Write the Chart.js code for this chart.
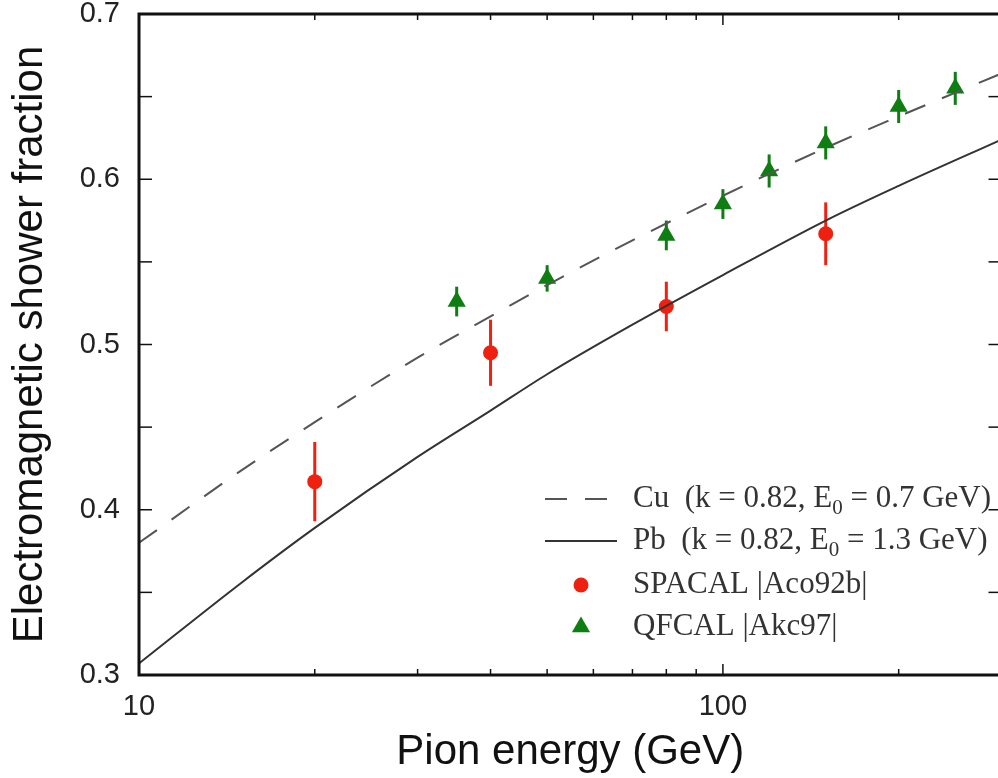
<!DOCTYPE html>
<html>
<head>
<meta charset="utf-8">
<style>
  html, body { margin: 0; padding: 0; overflow: hidden; background: #fff; }
  #wrap { width: 1012px; height: 778px; }
</style>
</head>
<body>
<div id="wrap"><canvas id="chart" width="1012" height="778"></canvas></div>
<script src="https://cdn.jsdelivr.net/npm/chart.js@4/dist/chart.umd.min.js"></script>
<script>
// Model curves
const curveE = [10, 15, 20, 30, 40, 50, 70, 100, 150, 200, 300];
const cuFraction = [0.380, 0.424, 0.453, 0.492, 0.517, 0.536, 0.563, 0.590, 0.619, 0.638, 0.664];
const pbFraction = [0.307, 0.356, 0.389, 0.432, 0.460, 0.482, 0.512, 0.542, 0.575, 0.596, 0.624];

// SPACAL [Aco92b]
const spacalE = [20, 40, 80, 150];
const spacalF = [0.417, 0.495, 0.523, 0.567];
const spacalErr = [0.024, 0.020, 0.015, 0.019];

// QFCAL [Ake97]
const qfcalE = [35, 50, 80, 100, 120, 150, 200, 250];
const qfcalF = [0.526, 0.540, 0.566, 0.585, 0.605, 0.622, 0.644, 0.655];
const qfcalErr = [0.009, 0.008, 0.009, 0.009, 0.010, 0.010, 0.010, 0.010];

// ticks
const xTickLabels = [10, 100];
const xMinorTicks = [20, 30, 40, 50, 60, 70, 80, 90, 200, 300];
const yTickLabels = [0.3, 0.4, 0.5, 0.6, 0.7];
const yMinorTicks = [0.35, 0.45, 0.55, 0.65];

const RED = "#ee2010";
const GREEN = "#0e7d12";

const toPoints = (xs, ys) => xs.map((x, i) => ({ x: x, y: ys[i] }));

// vertical error bars under the markers
const errorBars = {
  id: "errorBars",
  beforeDatasetsDraw(chart) {
    const ctx = chart.ctx;
    const x = chart.scales.x, y = chart.scales.y;
    const draw = (es, fs, errs, color) => {
      ctx.save();
      ctx.strokeStyle = color;
      ctx.lineWidth = 3;
      es.forEach((e, i) => {
        const px = x.getPixelForValue(e);
        ctx.beginPath();
        ctx.moveTo(px, y.getPixelForValue(fs[i] - errs[i]));
        ctx.lineTo(px, y.getPixelForValue(fs[i] + errs[i]));
        ctx.stroke();
      });
      ctx.restore();
    };
    draw(spacalE, spacalF, spacalErr, RED);
    draw(qfcalE, qfcalF, qfcalErr, GREEN);
  },
};

// box frame with inward ticks on all four sides
const frame = {
  id: "frame",
  afterDatasetsDraw(chart) {
    const ctx = chart.ctx;
    const a = chart.chartArea;
    const x = chart.scales.x, y = chart.scales.y;
    ctx.save();
    ctx.strokeStyle = "#111";
    ctx.lineWidth = 1.5;
    const tick = (x1, y1, x2, y2) => {
      ctx.beginPath();
      ctx.moveTo(x1, y1);
      ctx.lineTo(x2, y2);
      ctx.stroke();
    };
    xTickLabels.forEach((v) => {
      const px = x.getPixelForValue(v);
      tick(px, a.bottom, px, a.bottom - 11);
      tick(px, a.top, px, a.top + 11);
    });
    xMinorTicks.forEach((v) => {
      const px = x.getPixelForValue(v);
      tick(px, a.bottom, px, a.bottom - 6);
      tick(px, a.top, px, a.top + 6);
    });
    yTickLabels.concat(yMinorTicks).forEach((v) => {
      const py = y.getPixelForValue(v);
      tick(a.left, py, a.left + 13, py);
      tick(a.right, py, a.right - 13, py);
    });
    ctx.lineWidth = 3;
    ctx.strokeRect(a.left, a.top, a.right - a.left, a.bottom - a.top);
    ctx.restore();
  },
};

// legend inside the plot, with subscript 0
const insideLegend = {
  id: "insideLegend",
  afterDraw(chart) {
    const ctx = chart.ctx;
    const rows = [499, 541, 585, 627];
    const sampleL = 545, sampleR = 617, textX = 633;
    const font = "31px 'Liberation Serif', 'Times New Roman', serif";
    const subFont = "21px 'Liberation Serif', 'Times New Roman', serif";
    ctx.save();
    chart.data.datasets.forEach((ds, i) => {
      const yy = rows[i];
      if (ds.showLine === false) {
        const mx = (sampleL + sampleR) / 2;
        ctx.fillStyle = ds.pointBackgroundColor;
        ctx.beginPath();
        if (ds.pointStyle === "triangle") {
          const r = ds.pointRadius;
          ctx.moveTo(mx, yy - r);
          ctx.lineTo(mx + r * Math.sin(2.0944), yy - r * Math.cos(2.0944));
          ctx.lineTo(mx + r * Math.sin(4.1888), yy - r * Math.cos(4.1888));
        } else {
          ctx.arc(mx, yy, ds.pointRadius, 0, Math.PI * 2);
        }
        ctx.closePath();
        ctx.fill();
      } else {
        ctx.strokeStyle = ds.borderColor;
        ctx.lineWidth = ds.borderWidth;
        ctx.setLineDash(ds.borderDash || []);
        ctx.beginPath();
        ctx.moveTo(sampleL, yy);
        ctx.lineTo(sampleR, yy);
        ctx.stroke();
        ctx.setLineDash([]);
      }
      ctx.fillStyle = "#333";
      ctx.textBaseline = "middle";
      ctx.textAlign = "left";
      let tx = textX;
      ds.label.split("₀").forEach((part, k) => {
        if (k > 0) {
          ctx.font = subFont;
          ctx.fillText("0", tx, yy + 9);
          tx += ctx.measureText("0").width;
        }
        ctx.font = font;
        ctx.fillText(part, tx, yy);
        tx += ctx.measureText(part).width;
      });
    });
    ctx.restore();
  },
};

new Chart(document.getElementById("chart"), {
  type: "scatter",
  data: {
    datasets: [
      {
        label: "Cu  (k = 0.82, E₀ = 0.7 GeV)",
        data: toPoints(curveE, cuFraction),
        showLine: true,
        borderColor: "#555",
        borderWidth: 2,
        borderDash: [22, 18],
        pointRadius: 0,
        cubicInterpolationMode: "monotone",
      },
      {
        label: "Pb  (k = 0.82, E₀ = 1.3 GeV)",
        data: toPoints(curveE, pbFraction),
        showLine: true,
        borderColor: "#333",
        borderWidth: 2,
        pointRadius: 0,
        cubicInterpolationMode: "monotone",
      },
      {
        label: "SPACAL |Aco92b|",
        data: toPoints(spacalE, spacalF),
        showLine: false,
        pointStyle: "circle",
        pointRadius: 7.5,
        pointBackgroundColor: RED,
        pointBorderWidth: 0,
      },
      {
        label: "QFCAL |Akc97|",
        data: toPoints(qfcalE, qfcalF),
        showLine: false,
        pointStyle: "triangle",
        pointRadius: 10.5,
        pointBackgroundColor: GREEN,
        pointBorderWidth: 0,
      },
    ],
  },
  options: {
    responsive: false,
    animation: false,
    layout: { padding: { top: 14, right: 8, bottom: 0, left: 0 } },
    plugins: { legend: { display: false }, tooltip: { enabled: false } },
    scales: {
      x: {
        type: "logarithmic",
        min: 10,
        max: 300,
        grid: { display: false, drawTicks: false },
        border: { display: false },
        afterBuildTicks: (s) => { s.ticks = xTickLabels.map((v) => ({ value: v })); },
        afterFit: (s) => { s.height = 103; },
        ticks: {
          autoSkip: false,
          maxRotation: 0,
          padding: 15,
          color: "#222",
          font: { family: "'Liberation Sans', Arial, sans-serif", size: 29 },
          callback: (v) => String(v),
        },
        title: {
          display: true,
          text: "Pion energy (GeV)",
          color: "#111",
          font: { family: "'Liberation Sans', Arial, sans-serif", size: 42 },
          padding: { top: 0, bottom: 0 },
        },
      },
      y: {
        min: 0.3,
        max: 0.7,
        grid: { display: false, drawTicks: false },
        border: { display: false },
        afterBuildTicks: (s) => { s.ticks = yTickLabels.map((v) => ({ value: v })); },
        afterFit: (s) => {
          s.width = 139;
          s.paddingTop = 0;
          s.paddingBottom = 0;
        },
        ticks: {
          padding: 19,
          color: "#222",
          font: { family: "'Liberation Sans', Arial, sans-serif", size: 29, lineHeight: 0.9 },
          callback: (v) => v.toFixed(1),
        },
        title: {
          display: true,
          text: "Electromagnetic shower fraction",
          color: "#111",
          font: { family: "'Liberation Sans', Arial, sans-serif", size: 42 },
          padding: { top: 5, bottom: 0 },
        },
      },
    },
  },
  plugins: [errorBars, frame, insideLegend],
});
</script>
</body>
</html>
